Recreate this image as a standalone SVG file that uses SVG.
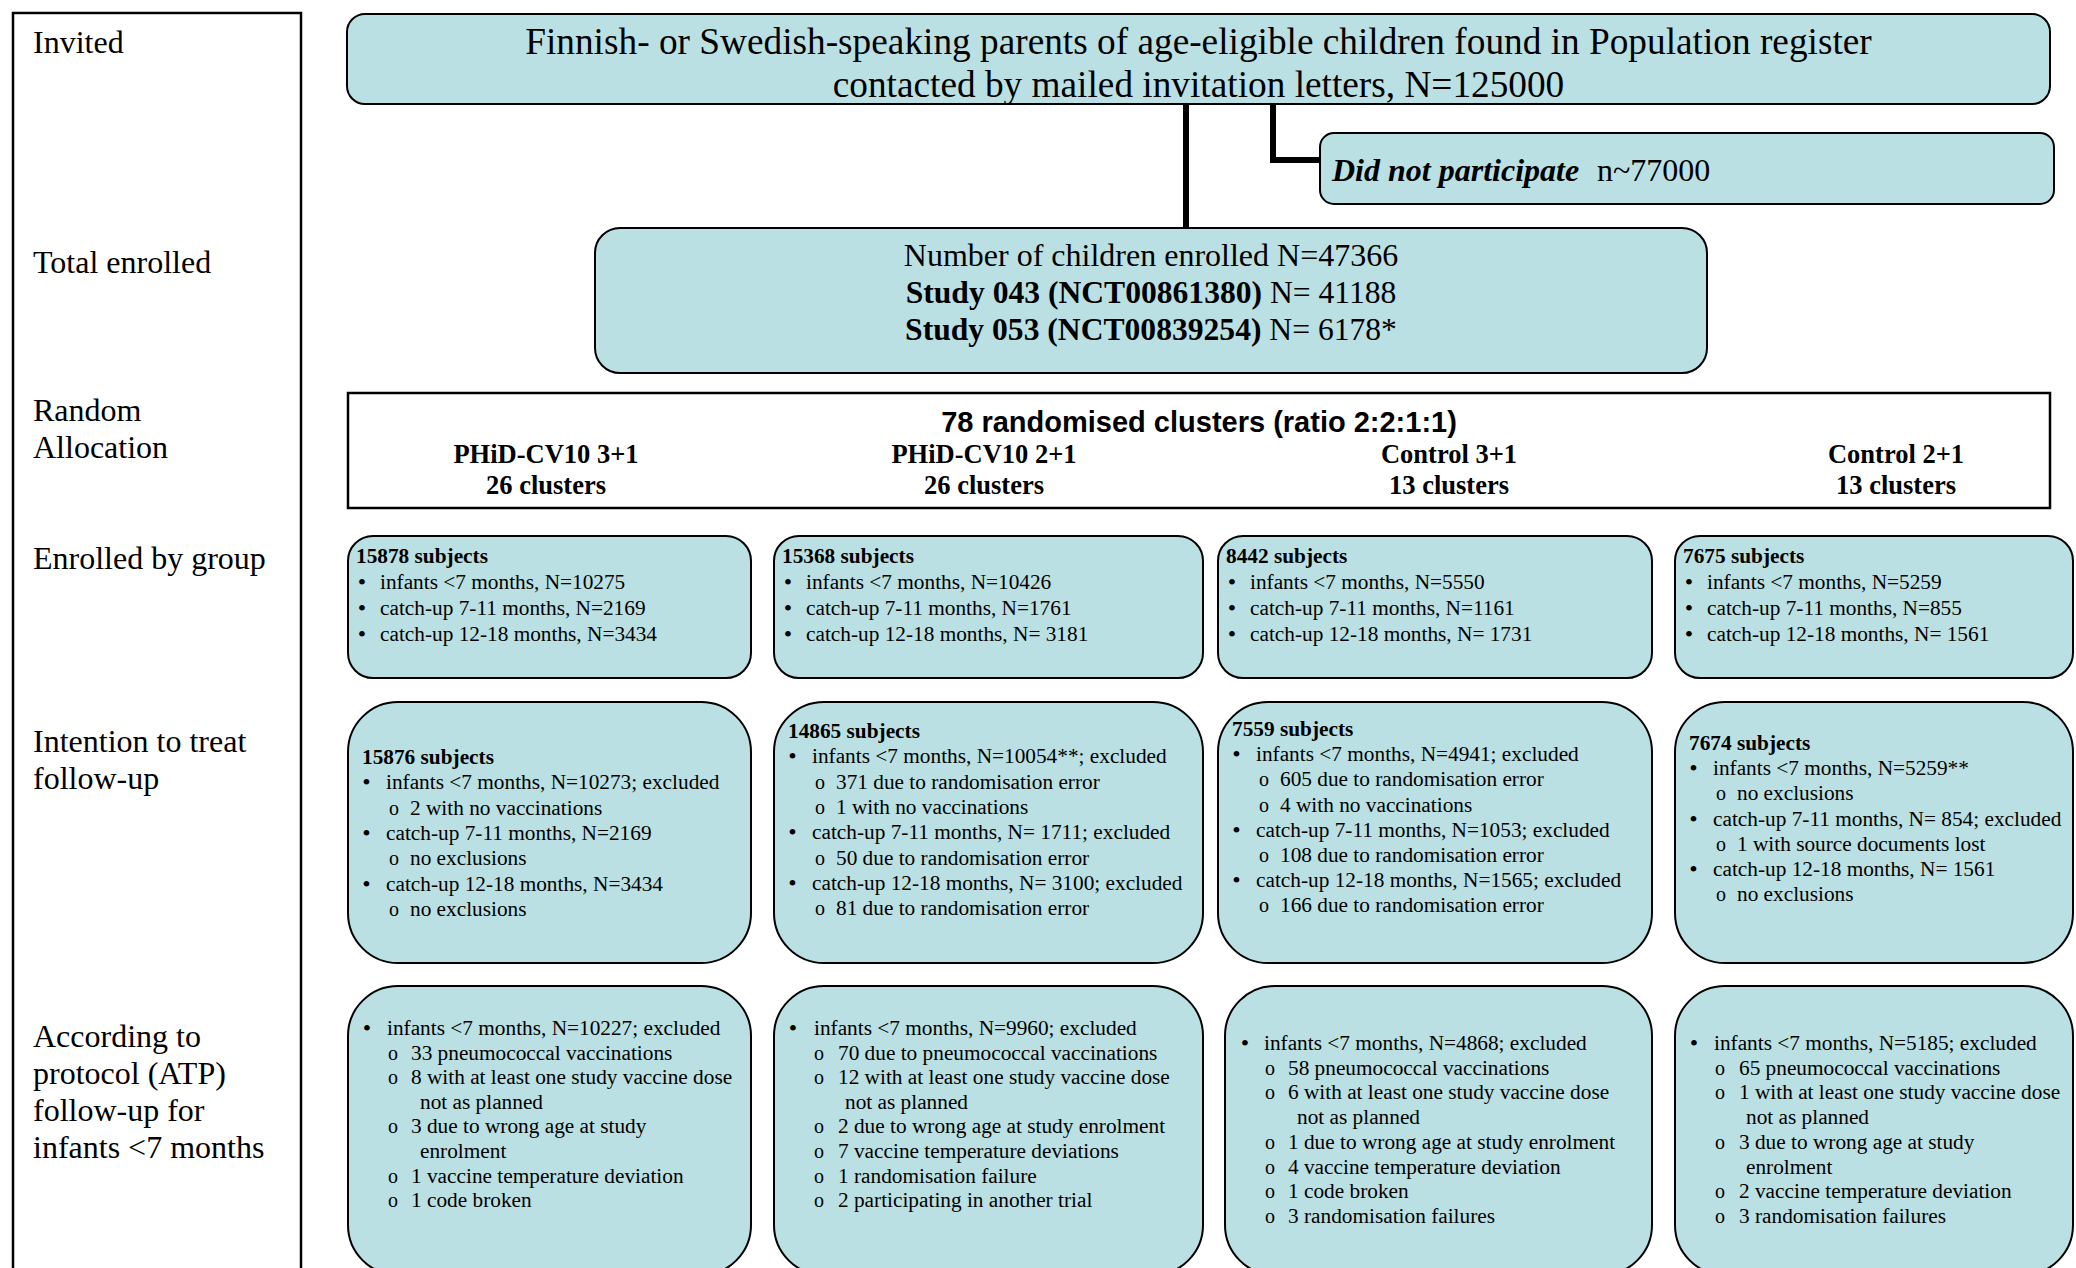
<svg xmlns="http://www.w3.org/2000/svg" width="2076" height="1268" viewBox="0 0 2076 1268">
<style>
.box{fill:#BAE0E3;stroke:#000;stroke-width:2}
.frame{fill:#fff;stroke:#000;stroke-width:2.5}
.t{font-family:"Liberation Serif","Times New Roman",serif;font-size:21.3px;fill:#000}
.b{font-weight:bold}
.lbl{font-family:"Liberation Serif","Times New Roman",serif;font-size:32px;fill:#000}
.mid{text-anchor:middle}
.ob{font-family:"Liberation Serif","Times New Roman",serif;font-size:20px;text-anchor:middle}
.dt{text-anchor:middle;font-size:24px}
.conn{fill:none;stroke:#000;stroke-width:6;stroke-linejoin:miter}
</style>
<rect width="2076" height="1268" fill="#fff"/>

<g id="stages">
<rect x="13" y="13" width="288" height="1275" fill="none" stroke="#000" stroke-width="2.5"/>
<text class="lbl" x="33" y="53">Invited</text>
<text class="lbl" x="33" y="273">Total enrolled</text>
<text class="lbl" x="33" y="421">Random</text>
<text class="lbl" x="33" y="458">Allocation</text>
<text class="lbl" x="33" y="569">Enrolled by group</text>
<text class="lbl" x="33" y="752">Intention to treat</text>
<text class="lbl" x="33" y="789">follow-up</text>
<text class="lbl" x="33" y="1047">According to</text>
<text class="lbl" x="33" y="1084">protocol (ATP)</text>
<text class="lbl" x="33" y="1121">follow-up for</text>
<text class="lbl" x="33" y="1158">infants &lt;7 months</text>
</g>

<g id="connectors">
<path class="conn" d="M1186 104 V228"/>
<path class="conn" d="M1273 104 V160 H1321"/>
</g>

<g id="invited">
<rect class="box" x="347" y="14" width="1703" height="90" rx="18"/>
<text class="t mid" x="1198.5" y="54" style="font-size:37.3px">Finnish- or Swedish-speaking parents of age-eligible children found in Population register</text>
<text class="t mid" x="1198.5" y="97" style="font-size:37.3px">contacted by mailed invitation letters, N=125000</text>
</g>

<g id="did-not-participate">
<rect class="box" x="1320" y="133" width="734" height="71" rx="14"/>
<text class="t" x="1332" y="181" style="font-size:32px;font-weight:bold;font-style:italic">Did not participate</text>
<text class="t" x="1597" y="181" style="font-size:32px">n~77000</text>
</g>

<g id="total-enrolled">
<rect class="box" x="595" y="228" width="1112" height="145" rx="25"/>
<text class="t mid" x="1151" y="266" style="font-size:32px">Number of children enrolled N=47366</text>
<text class="t mid" x="1151" y="303" style="font-size:31.6px"><tspan class="b">Study 043 (NCT00861380)</tspan> N= 41188</text>
<text class="t mid" x="1151" y="340" style="font-size:31.6px"><tspan class="b">Study 053 (NCT00839254)</tspan> N= 6178*</text>
</g>

<g id="random-allocation">
<rect class="frame" x="348" y="393" width="1702" height="115"/>
<text class="mid" x="1199" y="432" style="font-family:'Liberation Sans',Arial,sans-serif;font-weight:bold;font-size:29px">78 randomised clusters (ratio 2:2:1:1)</text>
<text class="t b mid" x="546" y="463" style="font-size:26.5px">PHiD-CV10 3+1</text>
<text class="t b mid" x="546" y="494" style="font-size:26.5px">26 clusters</text>
<text class="t b mid" x="984" y="463" style="font-size:26.5px">PHiD-CV10 2+1</text>
<text class="t b mid" x="984" y="494" style="font-size:26.5px">26 clusters</text>
<text class="t b mid" x="1449" y="463" style="font-size:26.5px">Control 3+1</text>
<text class="t b mid" x="1449" y="494" style="font-size:26.5px">13 clusters</text>
<text class="t b mid" x="1896" y="463" style="font-size:26.5px">Control 2+1</text>
<text class="t b mid" x="1896" y="494" style="font-size:26.5px">13 clusters</text>
</g>

<!-- Enrolled by group -->
<g id="enrolled-1">
<rect class="box" x="348" y="536" width="403" height="142" rx="25"/>
<text class="t b" x="356" y="563">15878 subjects</text>
<text class="t dt" x="362" y="590">•</text><text class="t" x="380" y="589">infants &lt;7 months, N=10275</text>
<text class="t dt" x="362" y="616">•</text><text class="t" x="380" y="615">catch-up 7-11 months, N=2169</text>
<text class="t dt" x="362" y="642">•</text><text class="t" x="380" y="641">catch-up 12-18 months, N=3434</text>
</g>
<g id="enrolled-2">
<rect class="box" x="774" y="536" width="429" height="142" rx="25"/>
<text class="t b" x="782" y="563">15368 subjects</text>
<text class="t dt" x="788" y="590">•</text><text class="t" x="806" y="589">infants &lt;7 months, N=10426</text>
<text class="t dt" x="788" y="616">•</text><text class="t" x="806" y="615">catch-up 7-11 months, N=1761</text>
<text class="t dt" x="788" y="642">•</text><text class="t" x="806" y="641">catch-up 12-18 months, N= 3181</text>
</g>
<g id="enrolled-3">
<rect class="box" x="1218" y="536" width="434" height="142" rx="25"/>
<text class="t b" x="1226" y="563">8442 subjects</text>
<text class="t dt" x="1232" y="590">•</text><text class="t" x="1250" y="589">infants &lt;7 months, N=5550</text>
<text class="t dt" x="1232" y="616">•</text><text class="t" x="1250" y="615">catch-up 7-11 months, N=1161</text>
<text class="t dt" x="1232" y="642">•</text><text class="t" x="1250" y="641">catch-up 12-18 months, N= 1731</text>
</g>
<g id="enrolled-4">
<rect class="box" x="1675" y="536" width="398" height="142" rx="25"/>
<text class="t b" x="1683" y="563">7675 subjects</text>
<text class="t dt" x="1689" y="590">•</text><text class="t" x="1707" y="589">infants &lt;7 months, N=5259</text>
<text class="t dt" x="1689" y="616">•</text><text class="t" x="1707" y="615">catch-up 7-11 months, N=855</text>
<text class="t dt" x="1689" y="642">•</text><text class="t" x="1707" y="641">catch-up 12-18 months, N= 1561</text>
</g>

<!-- Intention to treat -->
<g id="itt-1">
<rect class="box" x="348" y="702" width="403" height="261" rx="50"/>
<text class="t b" x="362" y="764">15876 subjects</text>
<text class="t dt" x="366.5" y="790.3">•</text><text class="t" x="386" y="789.3">infants &lt;7 months, N=10273; excluded</text>
<text class="ob" x="394" y="814.6">o</text><text class="t" x="410" y="814.6">2 with no vaccinations</text>
<text class="t dt" x="366.5" y="840.9">•</text><text class="t" x="386" y="839.9">catch-up 7-11 months, N=2169</text>
<text class="ob" x="394" y="865.2">o</text><text class="t" x="410" y="865.2">no exclusions</text>
<text class="t dt" x="366.5" y="891.5">•</text><text class="t" x="386" y="890.5">catch-up 12-18 months, N=3434</text>
<text class="ob" x="394" y="915.8">o</text><text class="t" x="410" y="915.8">no exclusions</text>
</g>
<g id="itt-2">
<rect class="box" x="774" y="702" width="429" height="261" rx="50"/>
<text class="t b" x="788" y="738">14865 subjects</text>
<text class="t dt" x="792.5" y="764.3">•</text><text class="t" x="812" y="763.3">infants &lt;7 months, N=10054**; excluded</text>
<text class="ob" x="820" y="788.6">o</text><text class="t" x="836" y="788.6">371 due to randomisation error</text>
<text class="ob" x="820" y="813.9">o</text><text class="t" x="836" y="813.9">1 with no vaccinations</text>
<text class="t dt" x="792.5" y="840.2">•</text><text class="t" x="812" y="839.2">catch-up 7-11 months, N= 1711; excluded</text>
<text class="ob" x="820" y="864.5">o</text><text class="t" x="836" y="864.5">50 due to randomisation error</text>
<text class="t dt" x="792.5" y="890.8">•</text><text class="t" x="812" y="889.8">catch-up 12-18 months, N= 3100; excluded</text>
<text class="ob" x="820" y="915.1">o</text><text class="t" x="836" y="915.1">81 due to randomisation error</text>
</g>
<g id="itt-3">
<rect class="box" x="1218" y="702" width="434" height="261" rx="50"/>
<text class="t b" x="1232" y="736">7559 subjects</text>
<text class="t dt" x="1236.5" y="762.2">•</text><text class="t" x="1256" y="761.2">infants &lt;7 months, N=4941; excluded</text>
<text class="ob" x="1264" y="786.4">o</text><text class="t" x="1280" y="786.4">605 due to randomisation error</text>
<text class="ob" x="1264" y="811.6">o</text><text class="t" x="1280" y="811.6">4 with no vaccinations</text>
<text class="t dt" x="1236.5" y="837.8">•</text><text class="t" x="1256" y="836.8">catch-up 7-11 months, N=1053; excluded</text>
<text class="ob" x="1264" y="862">o</text><text class="t" x="1280" y="862">108 due to randomisation error</text>
<text class="t dt" x="1236.5" y="888.2">•</text><text class="t" x="1256" y="887.2">catch-up 12-18 months, N=1565; excluded</text>
<text class="ob" x="1264" y="912.4">o</text><text class="t" x="1280" y="912.4">166 due to randomisation error</text>
</g>
<g id="itt-4">
<rect class="box" x="1675" y="702" width="398" height="261" rx="50"/>
<text class="t b" x="1689" y="750">7674 subjects</text>
<text class="t dt" x="1693.5" y="776.2">•</text><text class="t" x="1713" y="775.2">infants &lt;7 months, N=5259**</text>
<text class="ob" x="1721" y="800.4">o</text><text class="t" x="1737" y="800.4">no exclusions</text>
<text class="t dt" x="1693.5" y="826.6">•</text><text class="t" x="1713" y="825.6">catch-up 7-11 months, N= 854; excluded</text>
<text class="ob" x="1721" y="850.8">o</text><text class="t" x="1737" y="850.8">1 with source documents lost</text>
<text class="t dt" x="1693.5" y="877">•</text><text class="t" x="1713" y="876">catch-up 12-18 months, N= 1561</text>
<text class="ob" x="1721" y="901.2">o</text><text class="t" x="1737" y="901.2">no exclusions</text>
</g>

<!-- According to protocol -->
<g id="atp-1">
<rect class="box" x="348" y="986" width="403" height="289" rx="50"/>
<text class="t dt" x="367" y="1036">•</text><text class="t" x="387" y="1035">infants &lt;7 months, N=10227; excluded</text>
<text class="ob" x="393" y="1059.6">o</text><text class="t" x="411" y="1059.6">33 pneumococcal vaccinations</text>
<text class="ob" x="393" y="1084.2">o</text><text class="t" x="411" y="1084.2">8 with at least one study vaccine dose</text>
<text class="t" x="420" y="1108.8">not as planned</text>
<text class="ob" x="393" y="1133.4">o</text><text class="t" x="411" y="1133.4">3 due to wrong age at study</text>
<text class="t" x="420" y="1158">enrolment</text>
<text class="ob" x="393" y="1182.6">o</text><text class="t" x="411" y="1182.6">1 vaccine temperature deviation</text>
<text class="ob" x="393" y="1207.2">o</text><text class="t" x="411" y="1207.2">1 code broken</text>
</g>
<g id="atp-2">
<rect class="box" x="774" y="986" width="429" height="289" rx="50"/>
<text class="t dt" x="793" y="1036">•</text><text class="t" x="814" y="1035">infants &lt;7 months, N=9960; excluded</text>
<text class="ob" x="819" y="1059.6">o</text><text class="t" x="838" y="1059.6">70 due to pneumococcal vaccinations</text>
<text class="ob" x="819" y="1084.2">o</text><text class="t" x="838" y="1084.2">12 with at least one study vaccine dose</text>
<text class="t" x="845" y="1108.8">not as planned</text>
<text class="ob" x="819" y="1133.4">o</text><text class="t" x="838" y="1133.4">2 due to wrong age at study enrolment</text>
<text class="ob" x="819" y="1158">o</text><text class="t" x="838" y="1158">7 vaccine temperature deviations</text>
<text class="ob" x="819" y="1182.6">o</text><text class="t" x="838" y="1182.6">1 randomisation failure</text>
<text class="ob" x="819" y="1207.2">o</text><text class="t" x="838" y="1207.2">2 participating in another trial</text>
</g>
<g id="atp-3">
<rect class="box" x="1225" y="986" width="427" height="289" rx="50"/>
<text class="t dt" x="1245" y="1051">•</text><text class="t" x="1264" y="1050">infants &lt;7 months, N=4868; excluded</text>
<text class="ob" x="1270" y="1074.7">o</text><text class="t" x="1288" y="1074.7">58 pneumococcal vaccinations</text>
<text class="ob" x="1270" y="1099.4">o</text><text class="t" x="1288" y="1099.4">6 with at least one study vaccine dose</text>
<text class="t" x="1297" y="1124.1">not as planned</text>
<text class="ob" x="1270" y="1148.8">o</text><text class="t" x="1288" y="1148.8">1 due to wrong age at study enrolment</text>
<text class="ob" x="1270" y="1173.5">o</text><text class="t" x="1288" y="1173.5">4 vaccine temperature deviation</text>
<text class="ob" x="1270" y="1198.2">o</text><text class="t" x="1288" y="1198.2">1 code broken</text>
<text class="ob" x="1270" y="1222.9">o</text><text class="t" x="1288" y="1222.9">3 randomisation failures</text>
</g>
<g id="atp-4">
<rect class="box" x="1675" y="986" width="398" height="289" rx="50"/>
<text class="t dt" x="1694" y="1051">•</text><text class="t" x="1714" y="1050">infants &lt;7 months, N=5185; excluded</text>
<text class="ob" x="1720" y="1074.7">o</text><text class="t" x="1739" y="1074.7">65 pneumococcal vaccinations</text>
<text class="ob" x="1720" y="1099.4">o</text><text class="t" x="1739" y="1099.4">1 with at least one study vaccine dose</text>
<text class="t" x="1746" y="1124.1">not as planned</text>
<text class="ob" x="1720" y="1148.8">o</text><text class="t" x="1739" y="1148.8">3 due to wrong age at study</text>
<text class="t" x="1746" y="1173.5">enrolment</text>
<text class="ob" x="1720" y="1198.2">o</text><text class="t" x="1739" y="1198.2">2 vaccine temperature deviation</text>
<text class="ob" x="1720" y="1222.9">o</text><text class="t" x="1739" y="1222.9">3 randomisation failures</text>
</g>
</svg>
